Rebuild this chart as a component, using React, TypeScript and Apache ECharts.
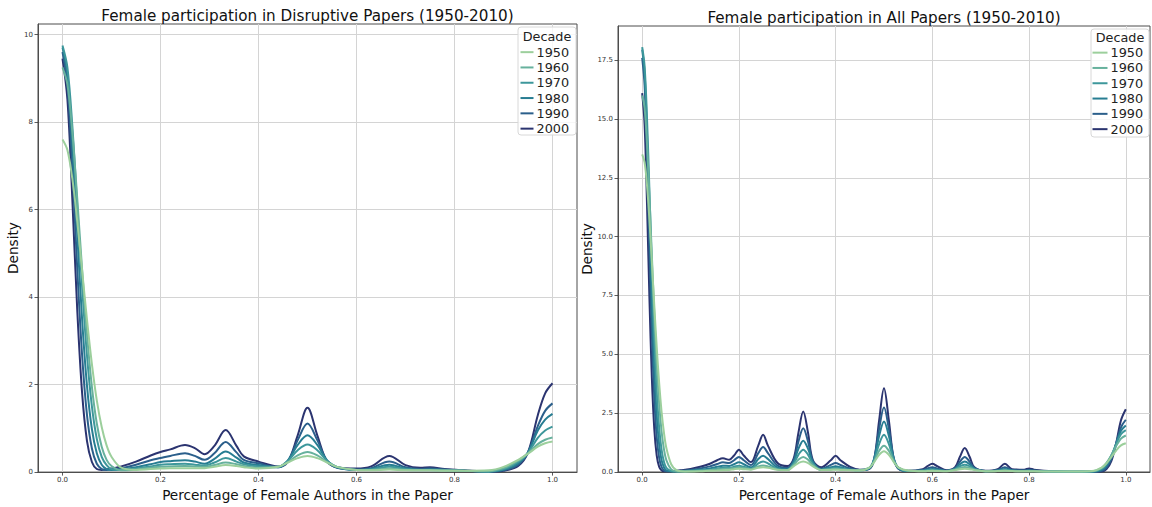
import React, { useEffect, useRef } from "react";
import * as echarts from "echarts";

const DECADES = ["1950", "1960", "1970", "1980", "1990", "2000"];
const COLORS = ["#9ccf9c", "#67b19d", "#3d979b", "#277d92", "#2b5f8b", "#2b3470"];
const FONT = "DejaVu Sans";

const TITLE_LEFT = "Female participation in Disruptive Papers (1950-2010)";
const TITLE_RIGHT = "Female participation in All Papers (1950-2010)";
const X_NAME = "Percentage of Female Authors in the Paper";
const Y_NAME = "Density";
const LEGEND_TITLE = "Decade";

const X_TICKS = [0, 0.2, 0.4, 0.6, 0.8, 1.0];
const Y_TICKS_DISRUPT = [0, 2, 4, 6, 8, 10];
const Y_TICKS_ALL = [0, 2.5, 5, 7.5, 10, 12.5, 15, 17.5];

// Disruptive papers
const XL = [0, 0.01, 0.02, 0.03, 0.04, 0.05, 0.06, 0.07, 0.08, 0.09,
  0.1, 0.12, 0.15, 0.18, 0.2, 0.22, 0.25, 0.27, 0.29, 0.31,
  0.333, 0.355, 0.37, 0.4, 0.44, 0.46, 0.48, 0.5, 0.52, 0.54,
  0.56, 0.6, 0.63, 0.667, 0.7, 0.73, 0.75, 0.78, 0.82, 0.87,
  0.9, 0.93, 0.95, 0.97, 0.985, 1.0];
const D1950 = [7.6, 7.36, 6.71, 5.74, 4.61, 3.48, 2.47, 1.64, 1.03, 0.61,
  0.35, 0.1, 0.05, 0.07, 0.08, 0.09, 0.09, 0.09, 0.09, 0.12,
  0.16, 0.14, 0.11, 0.08, 0.12, 0.22, 0.32, 0.37, 0.32, 0.22,
  0.12, 0.05, 0.04, 0.06, 0.04, 0.04, 0.04, 0.03, 0.03, 0.04,
  0.12, 0.28, 0.42, 0.58, 0.66, 0.7];
const D1960 = [9.25, 8.86, 7.78, 6.27, 4.63, 3.14, 1.95, 1.11, 0.58, 0.28,
  0.14, 0.04, 0.06, 0.1, 0.12, 0.13, 0.14, 0.13, 0.12, 0.16,
  0.22, 0.18, 0.14, 0.1, 0.12, 0.23, 0.38, 0.46, 0.38, 0.23,
  0.12, 0.05, 0.05, 0.08, 0.05, 0.04, 0.04, 0.04, 0.03, 0.02,
  0.09, 0.26, 0.43, 0.64, 0.74, 0.79];
const D1970 = [9.75, 9.25, 7.92, 6.1, 4.24, 2.66, 1.5, 0.76, 0.35, 0.16,
  0.07, 0.05, 0.08, 0.13, 0.17, 0.18, 0.19, 0.17, 0.15, 0.22,
  0.32, 0.24, 0.18, 0.13, 0.12, 0.26, 0.5, 0.63, 0.5, 0.26,
  0.12, 0.05, 0.06, 0.12, 0.07, 0.05, 0.05, 0.04, 0.03, 0.015,
  0.07, 0.23, 0.44, 0.78, 0.95, 1.04];
const D1980 = [9.7, 9.1, 7.52, 5.46, 3.49, 1.97, 0.98, 0.43, 0.17, 0.07,
  0.05, 0.06, 0.11, 0.18, 0.23, 0.25, 0.27, 0.24, 0.19, 0.3,
  0.47, 0.33, 0.22, 0.16, 0.11, 0.27, 0.62, 0.84, 0.62, 0.27,
  0.11, 0.05, 0.07, 0.17, 0.08, 0.05, 0.06, 0.05, 0.03, 0.01,
  0.05, 0.2, 0.45, 0.95, 1.2, 1.33];
const D1990 = [9.6, 8.86, 6.97, 4.67, 2.67, 1.3, 0.54, 0.19, 0.07, 0.05,
  0.06, 0.09, 0.17, 0.27, 0.32, 0.37, 0.43, 0.37, 0.28, 0.43,
  0.69, 0.45, 0.28, 0.2, 0.11, 0.25, 0.73, 1.11, 0.73, 0.25,
  0.1, 0.06, 0.09, 0.24, 0.11, 0.07, 0.08, 0.06, 0.03, 0.01,
  0.04, 0.17, 0.45, 1.05, 1.4, 1.57];
const D2000 = [9.45, 8.52, 6.25, 3.73, 1.81, 0.71, 0.23, 0.07, 0.05, 0.06,
  0.08, 0.13, 0.24, 0.38, 0.46, 0.52, 0.62, 0.55, 0.41, 0.6,
  0.96, 0.6, 0.36, 0.24, 0.13, 0.24, 0.84, 1.47, 0.84, 0.24,
  0.11, 0.08, 0.13, 0.37, 0.16, 0.1, 0.11, 0.07, 0.04, 0.01,
  0.03, 0.14, 0.45, 1.3, 1.8, 2.03];

// All papers
const XR = [0, 0.005, 0.01, 0.015, 0.02, 0.025, 0.03, 0.035, 0.04, 0.045,
  0.05, 0.06, 0.07, 0.08, 0.1, 0.12, 0.14, 0.155, 0.167, 0.18,
  0.19, 0.2, 0.21, 0.225, 0.24, 0.25, 0.26, 0.28, 0.3, 0.313,
  0.323, 0.333, 0.343, 0.353, 0.37, 0.39, 0.4, 0.41, 0.43, 0.45,
  0.47, 0.48, 0.49, 0.5, 0.51, 0.52, 0.53, 0.55, 0.58, 0.59,
  0.6, 0.61, 0.63, 0.647, 0.657, 0.667, 0.677, 0.687, 0.71, 0.735,
  0.75, 0.765, 0.79, 0.8, 0.81, 0.85, 0.9, 0.93, 0.95, 0.96,
  0.97, 0.98, 0.99, 1.0];
const A1950 = [13.5, 13.16, 12.18, 10.7, 8.93, 7.08, 5.33, 3.81, 2.58, 1.67,
  1.02, 0.33, 0.09, 0.03, 0.02, 0.03, 0.05, 0.06, 0.07, 0.09,
  0.12, 0.14, 0.12, 0.1, 0.18, 0.2, 0.18, 0.09, 0.07, 0.24,
  0.38, 0.45, 0.38, 0.24, 0.09, 0.09, 0.1, 0.09, 0.07, 0.06,
  0.19, 0.43, 0.73, 0.88, 0.73, 0.43, 0.19, 0.06, 0.03, 0.04,
  0.05, 0.04, 0.03, 0.08, 0.12, 0.14, 0.12, 0.08, 0.03, 0.04,
  0.05, 0.04, 0.03, 0.03, 0.03, 0.02, 0.02, 0.04, 0.19, 0.37,
  0.63, 0.91, 1.13, 1.22];
const A1960 = [16.0, 15.46, 13.93, 11.72, 9.19, 6.73, 4.6, 2.93, 1.74, 0.97,
  0.5, 0.11, 0.03, 0.02, 0.03, 0.05, 0.08, 0.11, 0.13, 0.14,
  0.17, 0.2, 0.17, 0.12, 0.24, 0.28, 0.24, 0.11, 0.08, 0.3,
  0.52, 0.64, 0.52, 0.3, 0.09, 0.12, 0.13, 0.12, 0.08, 0.08,
  0.19, 0.47, 0.9, 1.12, 0.9, 0.47, 0.19, 0.05, 0.04, 0.05,
  0.06, 0.05, 0.04, 0.1, 0.17, 0.21, 0.17, 0.1, 0.03, 0.04,
  0.06, 0.04, 0.03, 0.03, 0.03, 0.02, 0.02, 0.03, 0.18, 0.39,
  0.71, 1.1, 1.42, 1.55];
const A1970 = [18.05, 17.24, 15.02, 11.94, 8.66, 5.73, 3.46, 1.9, 0.96, 0.44,
  0.18, 0.04, 0.02, 0.03, 0.04, 0.07, 0.1, 0.15, 0.18, 0.18,
  0.22, 0.27, 0.22, 0.14, 0.37, 0.45, 0.37, 0.13, 0.09, 0.35,
  0.73, 0.95, 0.73, 0.35, 0.09, 0.15, 0.17, 0.15, 0.09, 0.07,
  0.18, 0.53, 1.19, 1.58, 1.19, 0.53, 0.18, 0.04, 0.05, 0.08,
  0.09, 0.08, 0.04, 0.12, 0.24, 0.31, 0.24, 0.12, 0.03, 0.05,
  0.09, 0.05, 0.04, 0.04, 0.04, 0.02, 0.01, 0.02, 0.13, 0.34,
  0.7, 1.18, 1.61, 1.78];
const A1980 = [17.95, 16.98, 14.37, 10.89, 7.38, 4.48, 2.43, 1.18, 0.51, 0.2,
  0.07, 0.03, 0.03, 0.04, 0.06, 0.1, 0.15, 0.22, 0.27, 0.26,
  0.33, 0.41, 0.33, 0.2, 0.55, 0.69, 0.55, 0.18, 0.12, 0.42,
  0.98, 1.33, 0.98, 0.42, 0.11, 0.2, 0.24, 0.2, 0.11, 0.07,
  0.16, 0.59, 1.54, 2.15, 1.54, 0.59, 0.16, 0.04, 0.06, 0.1,
  0.13, 0.1, 0.04, 0.14, 0.33, 0.45, 0.33, 0.14, 0.03, 0.06,
  0.13, 0.06, 0.05, 0.06, 0.05, 0.02, 0.01, 0.01, 0.09, 0.27,
  0.64, 1.2, 1.75, 1.98];
const A1990 = [17.6, 16.43, 13.38, 9.5, 5.88, 3.17, 1.49, 0.61, 0.22, 0.07,
  0.03, 0.03, 0.04, 0.05, 0.09, 0.15, 0.24, 0.34, 0.41, 0.38,
  0.5, 0.64, 0.5, 0.3, 0.8, 1.06, 0.8, 0.27, 0.17, 0.49,
  1.29, 1.86, 1.29, 0.45, 0.14, 0.3, 0.38, 0.3, 0.15, 0.08,
  0.14, 0.59, 1.84, 2.74, 1.84, 0.59, 0.14, 0.04, 0.08, 0.15,
  0.2, 0.15, 0.05, 0.16, 0.44, 0.64, 0.44, 0.16, 0.04, 0.08,
  0.2, 0.08, 0.06, 0.08, 0.06, 0.02, 0.01, 0.01, 0.05, 0.19,
  0.55, 1.2, 1.9, 2.22];
const A2000 = [16.1, 14.76, 11.38, 7.37, 4.01, 1.84, 0.71, 0.23, 0.07, 0.03,
  0.03, 0.04, 0.05, 0.07, 0.13, 0.22, 0.35, 0.5, 0.58, 0.52,
  0.7, 0.95, 0.7, 0.42, 1.12, 1.58, 1.12, 0.38, 0.25, 0.56,
  1.66, 2.57, 1.66, 0.5, 0.2, 0.5, 0.69, 0.5, 0.22, 0.1,
  0.14, 0.57, 2.2, 3.56, 2.2, 0.57, 0.14, 0.05, 0.12, 0.25,
  0.35, 0.25, 0.07, 0.2, 0.65, 1.02, 0.65, 0.2, 0.05, 0.12,
  0.35, 0.12, 0.1, 0.15, 0.1, 0.03, 0.01, 0.01, 0.02, 0.12,
  0.46, 1.22, 2.2, 2.67];

const DISRUPT = [D1950, D1960, D1970, D1980, D1990, D2000];
const ALL = [A1950, A1960, A1970, A1980, A1990, A2000];

const AXIS_COLOR = "#4d4d4d";
const GRID_COLOR = "#d4d4d4";
const TICK_TEXT = "#333333";
const LABEL_SIZE = 13.6;

function makeX(gridIndex: number) {
  return {
    type: "value",
    gridIndex,
    min: -0.05,
    max: 1.05,
    name: X_NAME,
    nameLocation: "middle",
    nameGap: 6.5,
    nameTextStyle: { fontFamily: FONT, fontSize: LABEL_SIZE, color: "#111", verticalAlign: "top" },
    axisLine: { show: true, onZero: false, lineStyle: { color: AXIS_COLOR, width: 1 } },
    axisTick: { show: true, customValues: X_TICKS, length: 3.5, lineStyle: { color: "#333", width: 0.8 } },
    axisLabel: {
      customValues: X_TICKS,
      formatter: (v: number) => v.toFixed(1),
      fontFamily: FONT,
      fontSize: 7,
      color: TICK_TEXT,
      margin: 4,
    },
    splitLine: { show: true, lineStyle: { color: GRID_COLOR, width: 1 } },
  };
}

function makeY(gridIndex: number, max: number, interval: number, ticks: number[], digits: number, gap: number) {
  return {
    type: "value",
    gridIndex,
    min: 0,
    max,
    interval,
    name: Y_NAME,
    nameLocation: "middle",
    nameGap: gap,
    nameRotate: 90,
    nameTextStyle: { fontFamily: FONT, fontSize: LABEL_SIZE, color: "#111" },
    axisLine: { show: true, onZero: false, lineStyle: { color: AXIS_COLOR, width: 1 } },
    axisTick: { show: true, customValues: ticks, length: 3.5, lineStyle: { color: "#333", width: 0.8 } },
    axisLabel: {
      customValues: ticks,
      formatter: (v: number) => v.toFixed(digits),
      fontFamily: FONT,
      fontSize: 7,
      color: TICK_TEXT,
      margin: 5,
    },
    splitLine: { show: true, lineStyle: { color: GRID_COLOR, width: 1 } },
  };
}

function makeSeries(xs: number[], ys: number[], idx: number, name: string, color: string) {
  return {
    type: "line",
    name,
    xAxisIndex: idx,
    yAxisIndex: idx,
    data: xs.map((x, i) => [x, ys[i]]),
    smooth: 0.35,
    symbol: "none",
    showSymbol: false,
    lineStyle: { width: 2, color },
    itemStyle: { color },
    emphasis: { disabled: true },
    z: 3,
  };
}

function makeLegend(left: number, top: number, itemWidth: number) {
  return {
    data: DECADES,
    orient: "vertical",
    left,
    top,
    padding: 0,
    icon: "rect",
    itemWidth,
    itemHeight: 2,
    itemGap: 0,
    selectedMode: false,
    textStyle: { fontFamily: FONT, fontSize: 12.8, color: "#222", lineHeight: 15.3, padding: [0, 0, 0, -2] },
    z: 12,
  };
}

export default function App() {
  const ref = useRef<HTMLDivElement>(null);
  useEffect(() => {
    document.body.style.margin = "0";
    if (!ref.current) return;
    const chart = echarts.init(ref.current, null, { renderer: "svg" });
    const series: any[] = [];
    for (let i = DECADES.length - 1; i >= 0; i--) {
      series.push(makeSeries(XL, DISRUPT[i], 0, DECADES[i], COLORS[i]));
    }
    for (let i = DECADES.length - 1; i >= 0; i--) {
      series.push(makeSeries(XR, ALL[i], 1, DECADES[i], COLORS[i]));
    }
    chart.setOption({
      animation: false,
      backgroundColor: "#ffffff",
      grid: [
        { left: 38, top: 24, width: 539, height: 449.5, show: true, borderColor: AXIS_COLOR, borderWidth: 1, backgroundColor: "transparent" },
        { left: 618, top: 26, width: 532, height: 446, show: true, borderColor: AXIS_COLOR, borderWidth: 1, backgroundColor: "transparent" },
      ],
      xAxis: [makeX(0), makeX(1)],
      yAxis: [
        makeY(0, 10.24, 2, Y_TICKS_DISRUPT, 0, 12),
        makeY(1, 18.95, 2.5, Y_TICKS_ALL, 1, 19),
      ],
      legend: [makeLegend(520.5, 44.5, 13), makeLegend(1092.5, 45, 15)],
      graphic: [
        { type: "text", x: 307.5, y: 15.5, style: { text: TITLE_LEFT, font: `15.2px "${FONT}"`, fill: "#111", align: "center", verticalAlign: "middle" } },
        { type: "text", x: 884, y: 17.5, style: { text: TITLE_RIGHT, font: `15.2px "${FONT}"`, fill: "#111", align: "center", verticalAlign: "middle" } },
        { type: "rect", z: 10, shape: { x: 518, y: 27, width: 58, height: 108, r: 3 }, style: { fill: "rgba(255,255,255,0.8)", stroke: "#d8d8d8", lineWidth: 1 } },
        { type: "rect", z: 10, shape: { x: 1091, y: 29, width: 58, height: 108, r: 3 }, style: { fill: "rgba(255,255,255,0.8)", stroke: "#d8d8d8", lineWidth: 1 } },
        { type: "text", z: 11, x: 547, y: 36, style: { text: LEGEND_TITLE, font: `12.8px "${FONT}"`, fill: "#222", align: "center", verticalAlign: "middle" } },
        { type: "text", z: 11, x: 1120, y: 37.5, style: { text: LEGEND_TITLE, font: `12.8px "${FONT}"`, fill: "#222", align: "center", verticalAlign: "middle" } },
      ],
      series,
    });
    return () => chart.dispose();
  }, []);
  return <div ref={ref} style={{ width: 1152, height: 507 }} />;
}
